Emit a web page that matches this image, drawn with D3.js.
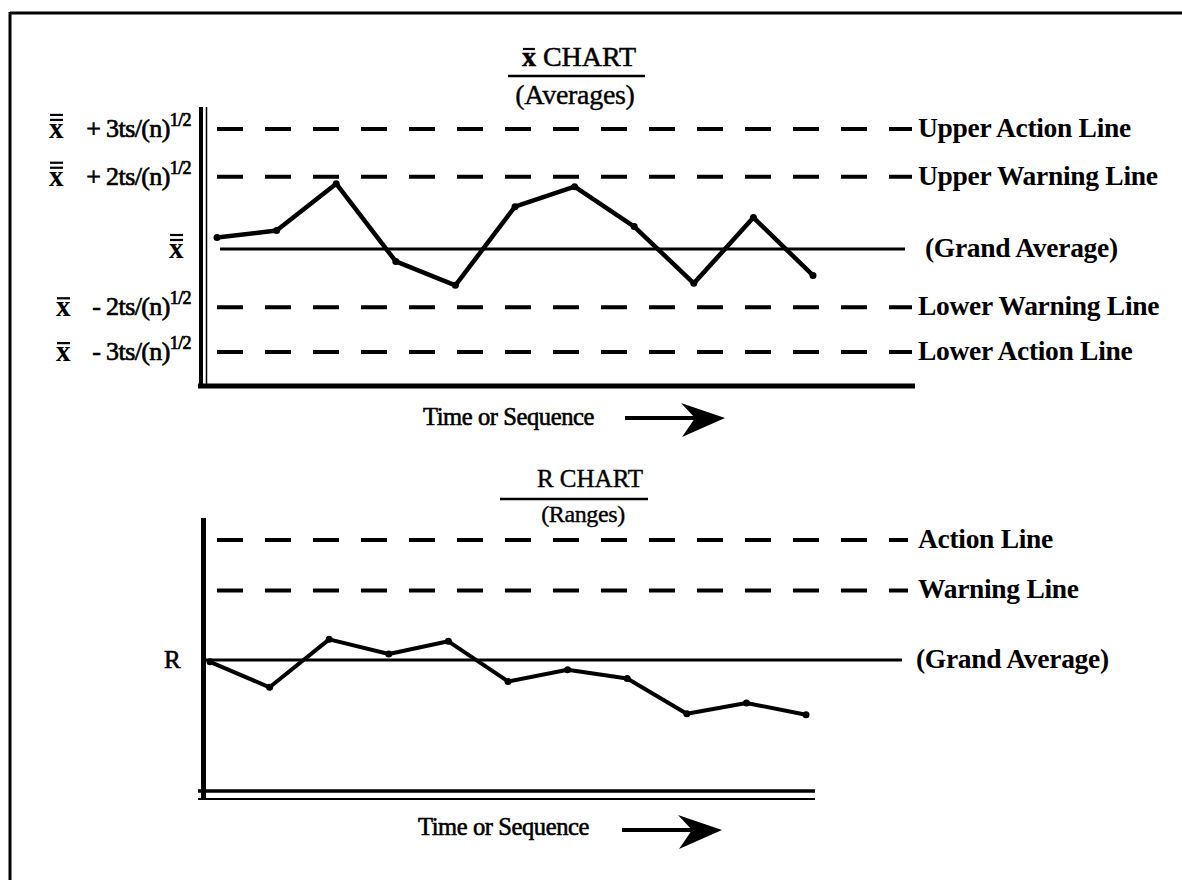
<!DOCTYPE html>
<html lang="en">
  <head>
    <meta charset="utf-8" />
    <title>X-bar and R control charts</title>
    <script src="https://d3js.org/d3.v7.min.js"></script>
    <style>
      body { margin: 0; background: #fff; }
      text { font-family: "Liberation Serif", "Times New Roman", serif; fill: #000; }
    </style>
  </head>
  <body>
    <div id="chart"></div>
    <script>
      // sample sequence (x axis)
      const sequence = [1, 2, 3, 4, 5, 6, 7, 8, 9, 10, 11];

      // x-bar chart: sample averages and control limits (arbitrary units)
      const averages = [14.9, 15.6, 20.3, 12.5, 10.1, 18.0, 20.0, 16.0, 10.3, 16.9, 11.1];
      const avgLimitValues = [25.8, 21.0, 13.75, 7.9, 3.4];
      const avgLimitNames = ["Upper Action Line", "Upper Warning Line", "(Grand Average)", "Lower Warning Line", "Lower Action Line"];
      const avgLimitFormulas = ["+ 3ts/(n)", "+ 2ts/(n)", "", "- 2ts/(n)", "- 3ts/(n)"];

      // R chart: sample ranges and control limits
      const ranges = [13.3, 10.7, 15.6, 14.1, 15.4, 11.3, 12.5, 11.6, 8.0, 9.1, 7.9];
      const rangeLimitValues = [25.75, 20.6, 13.5];
      const rangeLimitNames = ["Action Line", "Warning Line", "(Grand Average)"];

      const width = 1182;
      const height = 880;

      const svg = d3
        .select("#chart")
        .append("svg")
        .attr("width", width)
        .attr("height", height);

      // scanned page frame (top + left edges only)
      svg.append("line").attr("x1", 10).attr("x2", 1182).attr("y1", 13).attr("y2", 13)
        .attr("stroke", "#000").attr("stroke-width", 3);
      svg.append("line").attr("x1", 10).attr("x2", 10).attr("y1", 12).attr("y2", 880)
        .attr("stroke", "#000").attr("stroke-width", 3);

      const lineGen = (x, y) => d3.line().x((d, i) => x(sequence[i])).y((d) => y(d));

      const drawArrow = (g, x, y) => {
        g.append("line").attr("x1", x).attr("x2", x + 72).attr("y1", y).attr("y2", y)
          .attr("stroke", "#000").attr("stroke-width", 4);
        g.append("path")
          .attr("d", `M${x + 100},${y} L${x + 56},${y - 15} L${x + 70},${y} L${x + 57},${y + 19} Z`)
          .attr("fill", "#000");
      };

      const addBars = (g, node, count, gap) => {
        const b = node.getBBox();
        for (let k = 0; k < count; k++) {
          g.append("line")
            .attr("x1", b.x + 1).attr("x2", b.x + b.width - 1)
            .attr("y1", b.y + 8 - k * gap).attr("y2", b.y + 8 - k * gap)
            .attr("stroke", "#000").attr("stroke-width", 2.2);
        }
      };

      const rightLabel = (g, x, y, txt) =>
        g.append("text").attr("x", x).attr("y", y + 8)
          .style("font-size", "27.5px").style("font-weight", "bold")
          .style("letter-spacing", "-0.3px")
          .text(txt);

      // ---------- X-bar chart ----------
      const gTop = svg.append("g");
      const xA = d3.scaleLinear().domain([1, 11]).range([217, 813]);
      const yA = d3.scaleLinear().domain([0, 28]).range([386, 107]);

      const t1 = gTop.append("text").attr("x", 579).attr("y", 66).attr("text-anchor", "middle")
        .style("font-size", "28px").style("stroke", "#000").style("stroke-width", 0.5);
      const t1x = t1.append("tspan").style("font-weight", "bold").text("x");
      t1.append("tspan").text(" CHART");
      addBars(gTop, t1x.node(), 1, 0);
      gTop.append("line").attr("x1", 508).attr("x2", 645).attr("y1", 76).attr("y2", 76)
        .attr("stroke", "#000").attr("stroke-width", 2.5);
      gTop.append("text").attr("x", 575).attr("y", 104).attr("text-anchor", "middle")
        .style("font-size", "28px").style("stroke", "#000").style("stroke-width", 0.4)
        .style("letter-spacing", "-0.3px")
        .text("(Averages)");

      // axes
      gTop.append("line").attr("x1", 201).attr("x2", 201).attr("y1", yA(28)).attr("y2", yA(0) + 2)
        .attr("stroke", "#000").attr("stroke-width", 4);
      gTop.append("line").attr("x1", 206.5).attr("x2", 206.5).attr("y1", yA(28)).attr("y2", yA(0))
        .attr("stroke", "#000").attr("stroke-width", 1.5);
      gTop.append("line").attr("x1", 198).attr("x2", 915).attr("y1", yA(0)).attr("y2", yA(0))
        .attr("stroke", "#000").attr("stroke-width", 5);

      // limit lines
      avgLimitValues.forEach((v, i) => {
        const grand = avgLimitFormulas[i] === "";
        gTop.append("line")
          .attr("x1", grand ? 220 : 217).attr("x2", grand ? 905 : 912)
          .attr("y1", yA(v)).attr("y2", yA(v))
          .attr("stroke", "#000")
          .attr("stroke-width", grand ? 3 : 4)
          .attr("stroke-dasharray", grand ? null : "26 22");
        rightLabel(gTop, grand ? 925 : 918, yA(v), avgLimitNames[i]);

        // y-axis formula labels
        if (grand) {
          const tx = gTop.append("text").attr("x", 169).attr("y", yA(v) + 9)
            .style("font-size", "29px").style("font-weight", "bold").text("x");
          addBars(gTop, tx.node(), 2, 5);
        } else {
          const lower = avgLimitFormulas[i].startsWith("-");
          const lbl = gTop.append("text").attr("x", 191).attr("y", yA(v) + 8)
            .attr("text-anchor", "end")
            .style("font-size", "26px").style("stroke", "#000").style("stroke-width", 0.7)
            .style("letter-spacing", "-0.6px");
          lbl.append("tspan").text(avgLimitFormulas[i]);
          lbl.append("tspan").attr("dy", -11).style("font-size", "18px").text("1/2");
          const tx = gTop.append("text").attr("x", lower ? 56 : 49).attr("y", yA(v) + 9)
            .style("font-size", "29px").style("font-weight", "bold").text("x");
          addBars(gTop, tx.node(), lower ? 1 : 2, 5);
        }
      });

      gTop.append("path").datum(averages)
        .attr("d", lineGen(xA, yA))
        .attr("fill", "none").attr("stroke", "#000").attr("stroke-width", 4.5)
        .attr("stroke-linejoin", "round");
      gTop.selectAll(".pt").data(averages).enter().append("circle")
        .attr("cx", (d, i) => xA(sequence[i])).attr("cy", (d) => yA(d)).attr("r", 3.5);

      gTop.append("text").attr("x", 423).attr("y", 425)
        .style("font-size", "24.5px").style("stroke", "#000").style("stroke-width", 0.6)
        .style("letter-spacing", "-0.4px").text("Time or Sequence");
      drawArrow(gTop, 625, 418);

      // ---------- R chart ----------
      const gBot = svg.append("g");
      const xR = d3.scaleLinear().domain([1, 11]).range([210, 806]);
      const yR = d3.scaleLinear().domain([0, 28]).range([792, 518]);

      gBot.append("text").attr("x", 590).attr("y", 487).attr("text-anchor", "middle")
        .style("font-size", "25px").style("stroke", "#000").style("stroke-width", 0.4)
        .text("R  CHART");
      gBot.append("line").attr("x1", 500).attr("x2", 648).attr("y1", 499).attr("y2", 499)
        .attr("stroke", "#000").attr("stroke-width", 2.5);
      gBot.append("text").attr("x", 583).attr("y", 522).attr("text-anchor", "middle")
        .style("font-size", "24px").style("stroke", "#000").style("stroke-width", 0.4)
        .style("letter-spacing", "-0.4px")
        .text("(Ranges)");

      gBot.append("line").attr("x1", 203.5).attr("x2", 203.5).attr("y1", yR(28)).attr("y2", 800)
        .attr("stroke", "#000").attr("stroke-width", 5);
      gBot.append("line").attr("x1", 198).attr("x2", 815).attr("y1", yR(0) - 1).attr("y2", yR(0) - 1)
        .attr("stroke", "#000").attr("stroke-width", 3.5);
      gBot.append("line").attr("x1", 198).attr("x2", 815).attr("y1", 799).attr("y2", 799)
        .attr("stroke", "#000").attr("stroke-width", 2);

      rangeLimitValues.forEach((v, i) => {
        const grand = i === rangeLimitValues.length - 1;
        gBot.append("line")
          .attr("x1", grand ? 205 : 217).attr("x2", grand ? 902 : 908)
          .attr("y1", yR(v)).attr("y2", yR(v))
          .attr("stroke", "#000")
          .attr("stroke-width", grand ? 3 : 4)
          .attr("stroke-dasharray", grand ? null : "26 22");
        rightLabel(gBot, grand ? 916 : 918, yR(v), rangeLimitNames[i]);
      });
      gBot.append("text").attr("x", 164).attr("y", yR(rangeLimitValues[2]) + 8)
        .style("font-size", "25px").style("stroke", "#000").style("stroke-width", 0.6)
        .text("R");

      gBot.append("path").datum(ranges)
        .attr("d", lineGen(xR, yR))
        .attr("fill", "none").attr("stroke", "#000").attr("stroke-width", 4)
        .attr("stroke-linejoin", "round");
      gBot.selectAll(".pt").data(ranges).enter().append("circle")
        .attr("cx", (d, i) => xR(sequence[i])).attr("cy", (d) => yR(d)).attr("r", 3.5);

      gBot.append("text").attr("x", 418).attr("y", 835)
        .style("font-size", "24.5px").style("stroke", "#000").style("stroke-width", 0.6)
        .style("letter-spacing", "-0.4px").text("Time or Sequence");
      drawArrow(gBot, 622, 830);
    </script>
  </body>
</html>
